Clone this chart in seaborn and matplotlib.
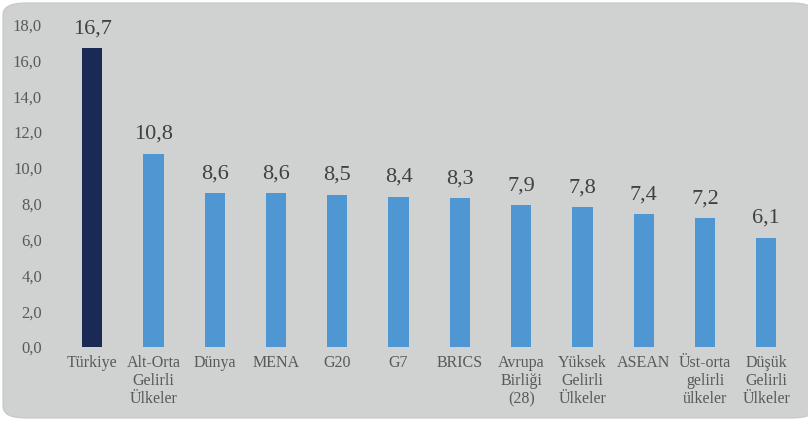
import matplotlib
matplotlib.use("Agg")
import matplotlib.pyplot as plt
from matplotlib.patches import FancyBboxPatch
import seaborn as sns
import pandas as pd

categories = ["Türkiye", "Alt-Orta\nGelirli\nÜlkeler", "Dünya", "MENA", "G20", "G7", "BRICS",
              "Avrupa\nBirliği\n(28)", "Yüksek\nGelirli\nÜlkeler", "ASEAN", "Üst-orta\ngelirli\nülkeler",
              "Düşük\nGelirli\nÜlkeler"]
values = [16.7, 10.8, 8.6, 8.6, 8.5, 8.4, 8.3, 7.9, 7.8, 7.4, 7.2, 6.1]
yticks = [0, 2, 4, 6, 8, 10, 12, 14, 16, 18]

dark = "#1B2A55"
light = "#4F97D2"
colors = [dark] + [light] * (len(categories) - 1)

sns.set_theme(style="white")
plt.rcParams["font.family"] = ["Liberation Serif", "DejaVu Serif"]

fig = plt.figure(figsize=(8.08, 4.21), dpi=100)
fig.patch.set_facecolor("white")
bg = FancyBboxPatch((3 / 808, 3 / 421), 812 / 808, 415 / 421,
                    boxstyle="round,pad=0,rounding_size=0.028",
                    transform=fig.transFigure, facecolor="#D0D1D1", edgecolor="#C6C6C6",
                    linewidth=0.8, zorder=-10)
fig.add_artist(bg)

ax = fig.add_axes([61.5 / 808, 1 - 347 / 421, (797 - 61.5) / 808, (347 - 24.5) / 421])
ax.set_facecolor("none")
ax.set_zorder(1)

df = pd.DataFrame({"cat": categories, "val": values})
sns.barplot(data=df, x="cat", y="val", hue="cat", palette=colors, width=0.33,
            legend=False, ax=ax, saturation=1, linewidth=0, edgecolor="none")

ax.set_ylim(0, 18)
ax.set_xlim(-0.5, len(categories) - 0.5)
ax.set_yticks(yticks)
ax.set_yticklabels([f"{v:.1f}".replace(".", ",") for v in yticks], fontsize=12, color="#595959")
ax.tick_params(axis="y", length=0, pad=14)
ax.tick_params(axis="x", length=0, pad=6)
for lbl in ax.get_xticklabels():
    lbl.set_fontsize(11.5)
    lbl.set_color("#595959")
    lbl.set_linespacing(1.15)
    lbl.set_verticalalignment("top")
ax.set_xlabel("")
ax.set_ylabel("")
for s in ax.spines.values():
    s.set_visible(False)

for i, v in enumerate(values):
    ax.annotate(f"{v:.1f}".replace(".", ","), (i, v), xytext=(0, 7), textcoords="offset points",
                ha="center", va="bottom", fontsize=16, color="#404040")

fig.savefig("out.png", dpi=100, facecolor="white")
